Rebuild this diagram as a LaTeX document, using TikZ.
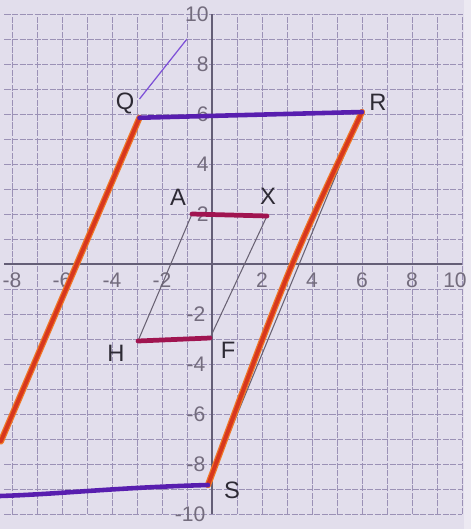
\documentclass[tikz,border=0pt]{standalone}
\usepackage{fontspec}
\setmainfont{Liberation Sans}
\definecolor{paper}{RGB}{226,222,236}
\definecolor{gridc}{RGB}{155,145,182}
\definecolor{axisc}{RGB}{100,94,118}
\definecolor{violetc}{RGB}{88,30,175}
\definecolor{orangec}{RGB}{240,120,40}
\definecolor{redc}{RGB}{215,55,30}
\definecolor{crimsonc}{RGB}{160,20,80}
\definecolor{pencil}{RGB}{105,98,115}
\definecolor{labelc}{RGB}{45,42,52}
\definecolor{tickc}{RGB}{115,108,125}
\definecolor{thinviolet}{RGB}{125,80,215}
\tikzset{
  gridline/.style={draw=gridc,line width=0.55pt,dash pattern=on 3.5pt off 0.8pt},
  axisline/.style={draw=axisc,line width=0.9pt},
  violetline/.style={draw=violetc,line width=2.6pt,line cap=round,line join=round},
  orangeunder/.style={draw=orangec,line width=3.6pt,line cap=round,line join=round},
  redover/.style={draw=redc,line width=2.2pt,line cap=round,line join=round},
  crimsonline/.style={draw=crimsonc,line width=2.7pt,line cap=round},
  pencilline/.style={draw=pencil,line width=0.6pt},
  thinv/.style={draw=thinviolet,line width=0.7pt},
  ptlabel/.style={text=labelc,font=\fontsize{13.5}{15}\selectfont,inner sep=0pt},
  ticklabel/.style={text=tickc,font=\fontsize{12}{14}\selectfont,inner sep=0pt}
}
\begin{document}
\begin{tikzpicture}[x=0.5cm,y=0.5cm]
\useasboundingbox (-8.48,-10.6) rectangle (10.36,10.56);
\fill[paper] (-8.48,-10.6) rectangle (10.36,10.56);
\fill[white,opacity=0.35] (10.1,-10.6) rectangle (10.36,10.56);
% grid
\foreach \i in {-8,...,10} {\path[gridline] (\i,-10) -- (\i,10);}
\foreach \j in {-10,...,10} {\path[gridline] (-8.3,\j) -- (10,\j);}
% axes
\path[axisline] (-8.3,0) -- (10,0);
\path[axisline] (0,-10) -- (0,10);
% tick labels
\foreach \v in {10,8,6,4,2} {\node[ticklabel,anchor=east] (ty\v) at (-0.12,\v) {\v};}
\foreach \v in {-2,-4,-6,-8,-10} {\node[ticklabel,anchor=east] (ty\v) at (-0.25,\v) {\v};}
\foreach \v in {-8,-6,-4,-2,2,4,6,8} {\node[ticklabel] (tx\v) at (\v,-0.64) {\v};}
\node[ticklabel] (tx10) at (9.72,-0.64) {10};
% points
\coordinate (Q) at (-2.9,5.85);
\coordinate (R) at (6.0,6.08);
\coordinate (S) at (-0.16,-8.84);
\coordinate (A) at (-0.8,2.0);
\coordinate (X) at (2.2,1.92);
\coordinate (H) at (-2.96,-3.08);
\coordinate (F) at (-0.08,-2.96);
\coordinate (LQ) at (-8.45,-7.1);
\coordinate (LS) at (-8.48,-9.28);
\coordinate (RM) at (3.12,0);
\coordinate (T1) at (-2.9,6.6);
\coordinate (T2) at (-1.0,9.0);
% pencil lines
\path[pencilline] (R) -- (S);
\path[pencilline] (A) -- (H);
\path[pencilline] (X) -- (F);
\path[thinv] (T1) -- (T2);
% orange sides
\path[orangeunder] (Q) -- (LQ);
\path[redover] (Q) -- (LQ);
\path[orangeunder] (R) .. controls (RM) .. (S);
\path[redover] (R) .. controls (RM) .. (S);
% violet sides
\path[violetline] (Q) -- (R);
\path[violetline] (S) .. controls (-4,-8.95) and (-6,-9.2) .. (LS);
% crimson
\path[crimsonline] (A) -- (X);
\path[crimsonline] (H) -- (F);
% labels
\node[ptlabel] (lQ) at (-3.48,6.44) {Q};
\node[ptlabel] (lR) at (6.64,6.48) {R};
\node[ptlabel] (lA) at (-1.36,2.68) {A};
\node[ptlabel] (lX) at (2.24,2.72) {X};
\node[ptlabel] (lH) at (-3.84,-3.56) {H};
\node[ptlabel] (lF) at (0.64,-3.44) {F};
\node[ptlabel] (lS) at (0.8,-9.04) {S};
\end{tikzpicture}
\end{document}
